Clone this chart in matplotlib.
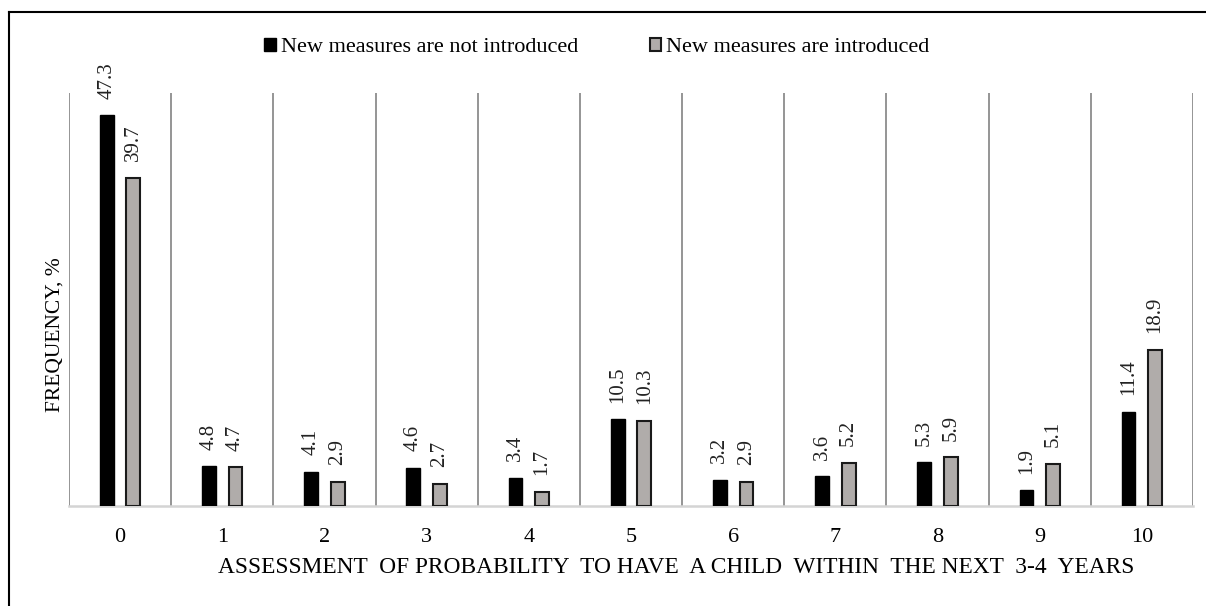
import matplotlib.pyplot as plt
import numpy as np
from matplotlib.lines import Line2D

plt.rcParams['font.family'] = ['Liberation Serif', 'DejaVu Serif']

scores = ['0', '1', '2', '3', '4', '5', '6', '7', '8', '9', '10']
not_introduced = [47.3, 4.8, 4.1, 4.6, 3.4, 10.5, 3.2, 3.6, 5.3, 1.9, 11.4]
introduced = [39.7, 4.7, 2.9, 2.7, 1.7, 10.3, 2.9, 5.2, 5.9, 5.1, 18.9]

fig = plt.figure(figsize=(12.06, 6.06), dpi=100)
ax = fig.add_axes([0.0572, 0.165, 0.932, 0.6815])

x = np.arange(len(scores))
w = 0.135
b1 = ax.bar(x - 0.13, not_introduced, w, color='black', edgecolor='black',
            linewidth=1, label='New measures are not introduced', zorder=3)
b2 = ax.bar(x + 0.13, introduced, w, color='#b0acaa', edgecolor='#1a1a1a',
            linewidth=1.5, label='New measures are introduced', zorder=3)

for bars, vals in [(b1, not_introduced), (b2, introduced)]:
    for rect, v in zip(bars, vals):
        ax.annotate(f'{v:.1f}', (rect.get_x() + rect.get_width() / 2, v),
                    xytext=(0, 12), textcoords='offset points', rotation=90,
                    ha='center', va='bottom', fontsize=15, color='#222222')

# category separators
for b in np.arange(-0.5, len(scores), 1.0):
    ax.axvline(b, color='#8c8c8c', lw=1.3, zorder=1)

ax.set_xlim(-0.5, len(scores) - 0.5)
ax.set_ylim(0, 50)
for s in ['top', 'right', 'left']:
    ax.spines[s].set_visible(False)
ax.spines['bottom'].set_color('#d4d4d4')
ax.spines['bottom'].set_linewidth(1.8)
ax.set_yticks([])
ax.set_xticks(x)
ax.set_xticklabels(scores, fontsize=16)
ax.tick_params(axis='x', length=0, pad=16)

ax.set_xlabel('ASSESSMENT  OF PROBABILITY  TO HAVE  A CHILD  WITHIN  THE NEXT  3-4  YEARS',
              fontsize=16.8, va='center')
ax.xaxis.set_label_coords(0.540, -0.150)
ax.set_ylabel('FREQUENCY, %', fontsize=15.5)
ax.yaxis.set_label_coords(-0.004, 0.414)

fig.legend(handles=[b1, b2], loc='center', bbox_to_anchor=(0.495, 0.921),
           ncol=2, frameon=False, fontsize=16, handlelength=0.5,
           handleheight=0.5, handletextpad=0.25, columnspacing=3.2)

# outer frame (top and left edges visible)
fig.add_artist(Line2D([0.0075, 1.0], [0.98, 0.98], color='black', lw=1.5,
                      transform=fig.transFigure))
fig.add_artist(Line2D([0.0075, 0.0075], [0.0, 0.98], color='black', lw=1.5,
                      transform=fig.transFigure))

fig.savefig('out.png', dpi=100)
